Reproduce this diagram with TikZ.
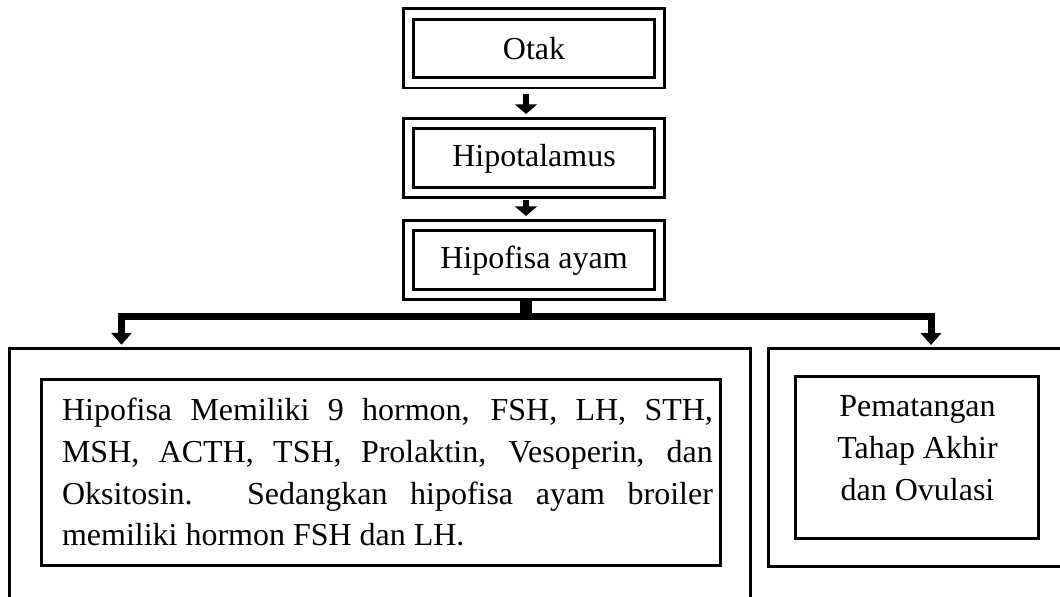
\documentclass[tikz,border=0pt]{standalone}
\usepackage{fontspec}
\setmainfont{Liberation Serif}
\usetikzlibrary{positioning,arrows.meta}

\begin{document}
\begin{tikzpicture}[x=0.02cm, y=-0.02cm,
  every node/.style={font=\fontsize{18.2}{23.7}\selectfont, inner sep=0pt, outer sep=0pt},
  dbox/.style={draw, double, double distance=4pt, line width=1.7pt, minimum width=5.02cm, minimum height=1.38cm},
  sbox/.style={draw, line width=2pt},
  flow/.style={line width=3.7pt, -{Triangle[width=12.5pt,length=5.5pt]}, shorten >=0.2cm},
  stem/.style={line width=6.8pt},
  branch/.style={line width=4pt, {Triangle[width=11.4pt,length=6.8pt]}-{Triangle[width=11.4pt,length=6.8pt]}, shorten <=2pt, shorten >=2pt}
]
\useasboundingbox (0,0) rectangle (1060,597);
\clip (0,0) rectangle (1060,597);

\node[dbox] (otak) at (534,48.5) {Otak};
\node[dbox, below=0.82cm of otak] (hipot) {Hipotalamus};
\node[dbox, below=0.66cm of hipot] (hipof) {Hipofisa ayam};

\node[sbox, minimum width=14.82cm, minimum height=5.83cm] (outerL) at (380,494) {};
\node[sbox, minimum width=6.63cm, minimum height=4.36cm] (outerR) at (934,457.5) {};
\node[sbox, minimum width=13.58cm, minimum height=3.72cm] (hormon) at (381,472.5) {};
\node[text width=13.02cm, align=justify] (hormontxt) at (387.5,472.3)
  {Hipofisa Memiliki 9 hormon, FSH, LH, STH,\linebreak MSH, ACTH, TSH, Prolaktin, Vesoperin, dan\linebreak Oksitosin. Sedangkan hipofisa ayam broiler\linebreak memiliki hormon FSH dan LH.};
\node[sbox, minimum width=4.86cm, minimum height=3.24cm] (matang) at (917,457.5) {};
\node[align=center] (matangtxt) at (917.5,448.3) {Pematangan\\Tahap Akhir\\dan Ovulasi};

% arrows
\draw[flow, shorten <=0.22cm] ([xshift=-0.16cm]otak.south) -- ([xshift=-0.16cm]hipot.north);
\draw[flow, shorten <=0.15cm] ([xshift=-0.16cm]hipot.south) -- ([xshift=-0.16cm]hipof.north);

\coordinate (split) at (526,316.5);
\coordinate (forkL) at (121.5,316.5);
\coordinate (forkR) at (931,316.5);
\draw[stem, shorten <=0.13cm] (split |- hipof.south) -- (split);
\draw[branch] (forkL |- outerL.north) -- (forkL) -- (forkR) -- (forkR |- outerR.north);
\end{tikzpicture}
\end{document}
